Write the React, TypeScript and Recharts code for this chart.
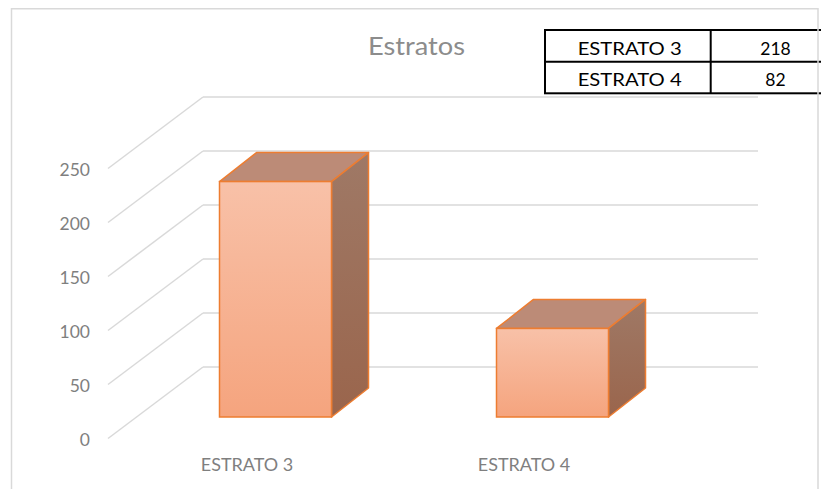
import { BarChart, Bar, XAxis, YAxis, CartesianGrid } from 'recharts';

const title = 'Estratos';
const categories = ['ESTRATO 3', 'ESTRATO 4'];
const counts = [218, 82];
const yTicks = [0, 50, 100, 150, 200, 250];

const data = categories.map((name, i) => ({ name, value: counts[i] }));

const W = 821;
const H = 481;
const FONT = 'Lato, "Open Sans", sans-serif';
const TEXT_GRAY = '#7f7f7f';
const GRID = '#d9d9d9';
const EDGE = '#ED7D31';

// depth offsets of the pseudo 3D boxes and of the back wall
const DX = 37;
const DY = -29;
const WALL_LEFT = 195;
const WALL_RIGHT = 750;
const FLOOR_LEFT = 100;

function Box3D(props: any) {
  const { x, y, width: w, height: h, index } = props;
  const fg = `front-${index}`;
  const sg = `side-${index}`;
  const top = `${x},${y} ${x + DX},${y + DY} ${x + w + DX},${y + DY} ${x + w},${y}`;
  const side = `${x + w},${y} ${x + w + DX},${y + DY} ${x + w + DX},${y + h + DY} ${x + w},${y + h}`;
  return (
    <g>
      <defs>
        <linearGradient id={fg} x1="0" y1="0" x2="0" y2="1">
          <stop offset="0%" stopColor="#F8C1A8" />
          <stop offset="100%" stopColor="#F5A47E" />
        </linearGradient>
        <linearGradient id={sg} x1="0" y1="0" x2="0" y2="1">
          <stop offset="0%" stopColor="#9F7966" />
          <stop offset="100%" stopColor="#9A654C" />
        </linearGradient>
      </defs>
      <polygon points={top} fill="#BC8B77" stroke={EDGE} strokeWidth={1.5} strokeLinejoin="round" />
      <polygon points={side} fill={`url(#${sg})`} stroke={EDGE} strokeWidth={1.5} strokeLinejoin="round" />
      <rect x={x} y={y} width={w} height={h} fill={`url(#${fg})`} stroke={EDGE} strokeWidth={1.5} />
    </g>
  );
}

// back wall line + diagonal floor line for every y tick
function WallLine(props: any) {
  const y = props.y1;
  return (
    <g key={props.key}>
      <line x1={WALL_LEFT} y1={y - 50} x2={WALL_RIGHT} y2={y - 50} stroke={GRID} strokeWidth={1.5} />
      <line x1={FLOOR_LEFT} y1={y + 21.5} x2={WALL_LEFT} y2={y - 50} stroke={GRID} strokeWidth={1.5} />
    </g>
  );
}

function YTick({ y, payload }: any) {
  return (
    <text x={82} y={y + 28.5} textAnchor="end" fill={TEXT_GRAY} fontSize={17.5} fontFamily={FONT}>
      {payload.value}
    </text>
  );
}

function XTick({ x, payload }: any) {
  return (
    <text x={x - 28} y={463} textAnchor="middle" fill={TEXT_GRAY} fontSize={18} fontFamily={FONT}>
      {payload.value}
    </text>
  );
}

export default function App() {
  const colText = 621.7;
  const colNum = 767.5;
  const rowBase = [46.5, 77.5];
  return (
    <div style={{ position: 'relative', width: W, height: H }}>
      <BarChart width={W} height={H} data={data} margin={{ top: 139, right: 138.5, left: 0, bottom: 0 }}>
        <CartesianGrid vertical={false} syncWithTicks horizontal={(p: any) => <WallLine {...p} />} />
        <XAxis dataKey="name" height={72} axisLine={false} tickLine={false} tick={<XTick />} />
        <YAxis width={128.5} domain={[0, 250]} ticks={yTicks} axisLine={false} tickLine={false} tick={<YTick />} />
        <Bar dataKey="value" barSize={112} shape={<Box3D />} isAnimationActive={false} />
      </BarChart>

      <svg width={W} height={H} style={{ position: 'absolute', left: 0, top: 0, pointerEvents: 'none' }}>
        <text x={408.5} y={46.7} textAnchor="middle" fill="#8c8c8c" fontSize={25} fontFamily={FONT} textLength={97} lengthAdjust="spacingAndGlyphs">
          {title}
        </text>

        <rect x={537} y={22} width={300} height={63.3} fill="#fff" stroke="#000" strokeWidth={2} />
        <line x1={537} y1={53.7} x2={837} y2={53.7} stroke="#000" strokeWidth={2} />
        <line x1={702.7} y1={22} x2={702.7} y2={85.3} stroke="#000" strokeWidth={2} />
        {categories.map((c, i) => (
          <g key={c}>
            <text x={colText} y={rowBase[i]} textAnchor="middle" fill="#000" fontSize={17.5} fontFamily={FONT} textLength={104} lengthAdjust="spacingAndGlyphs">
              {c}
            </text>
            <text x={colNum} y={rowBase[i]} textAnchor="middle" fill="#000" fontSize={17.5} fontFamily={FONT}>
              {counts[i]}
            </text>
          </g>
        ))}

        <polyline points={`3.5,${H} 3.5,0.75 810,0.75 810,${H}`} fill="none" stroke={GRID} strokeWidth={1.5} />
      </svg>
    </div>
  );
}
